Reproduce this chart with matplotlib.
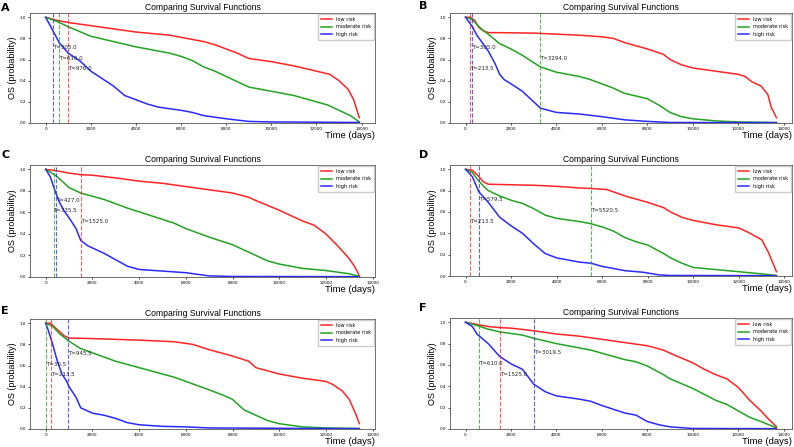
import matplotlib.pyplot as plt

## DATA
#  survival curves (time in days, survival probability)

# panel A
A_low_t = [0, 500, 1000, 2000, 3000, 4000, 5000, 5500, 6000, 7000, 7500, 8000, 8500, 9000, 10000, 11000, 12000, 12600, 13000, 13400, 13650, 13900]
A_low_s = [1.0, 0.97, 0.95, 0.92, 0.89, 0.86, 0.84, 0.83, 0.81, 0.77, 0.74, 0.70, 0.66, 0.61, 0.58, 0.54, 0.49, 0.46, 0.40, 0.32, 0.22, 0.05]
A_mod_t = [0, 500, 1000, 2000, 3000, 4000, 5000, 5500, 6000, 6500, 7000, 7500, 8000, 8500, 9000, 10000, 11000, 12000, 12500, 13000, 13500, 13900]
A_mod_s = [1.0, 0.96, 0.91, 0.82, 0.77, 0.72, 0.68, 0.66, 0.63, 0.59, 0.53, 0.49, 0.44, 0.39, 0.34, 0.30, 0.26, 0.20, 0.17, 0.12, 0.07, 0.01]
A_high_t = [0, 300, 600, 1000, 1500, 2000, 2500, 3000, 3500, 4000, 4500, 5000, 6000, 6500, 7000, 8000, 9000, 10000, 13900]
A_high_s = [1.0, 0.88, 0.76, 0.66, 0.59, 0.49, 0.42, 0.35, 0.26, 0.22, 0.18, 0.15, 0.12, 0.10, 0.07, 0.04, 0.015, 0.01, 0.005]

# panel B
B_low_t = [0, 200, 400, 600, 800, 1000, 2000, 3000, 4000, 5000, 6000, 6500, 7000, 8000, 8700, 9000, 9500, 10000, 11000, 12000, 12300, 12600, 13000, 13300, 13450, 13680]
B_low_s = [1.0, 1.0, 0.97, 0.90, 0.87, 0.855, 0.853, 0.85, 0.84, 0.83, 0.815, 0.80, 0.76, 0.70, 0.65, 0.60, 0.55, 0.52, 0.49, 0.46, 0.44, 0.39, 0.35, 0.27, 0.15, 0.05]
B_mod_t = [0, 300, 500, 800, 1000, 1500, 2000, 2500, 3000, 3300, 4000, 5000, 5500, 6000, 6500, 7000, 8000, 8500, 9000, 9500, 10000, 11000, 12000, 13680]
B_mod_s = [1.0, 0.98, 0.93, 0.87, 0.84, 0.75, 0.70, 0.64, 0.57, 0.53, 0.48, 0.44, 0.41, 0.37, 0.33, 0.28, 0.23, 0.17, 0.10, 0.06, 0.04, 0.02, 0.01, 0.005]
B_high_t = [0, 300, 500, 1000, 1300, 1500, 1700, 2000, 2500, 3000, 3300, 4000, 5000, 6000, 7000, 8000, 9000, 13680]
B_high_s = [1.0, 0.91, 0.83, 0.68, 0.56, 0.46, 0.41, 0.37, 0.30, 0.20, 0.14, 0.10, 0.085, 0.06, 0.03, 0.015, 0.005, 0.003]

# panel C
C_low_t = [0, 500, 1000, 1500, 2000, 3000, 4000, 5000, 6000, 7000, 8000, 8700, 9000, 10000, 11000, 11500, 12000, 12500, 13000, 13250, 13430]
C_low_s = [1.0, 0.985, 0.965, 0.95, 0.945, 0.92, 0.89, 0.87, 0.84, 0.81, 0.78, 0.74, 0.71, 0.62, 0.52, 0.48, 0.40, 0.29, 0.17, 0.09, 0.01]
C_mod_t = [0, 300, 500, 1000, 1500, 2500, 3500, 4500, 5500, 6000, 7000, 8000, 9000, 9500, 10000, 11000, 12000, 13000, 13430]
C_mod_s = [1.0, 0.96, 0.93, 0.83, 0.78, 0.72, 0.64, 0.57, 0.50, 0.45, 0.37, 0.30, 0.20, 0.15, 0.12, 0.08, 0.06, 0.03, 0.005]
C_high_t = [0, 200, 400, 600, 800, 1000, 1300, 1500, 1800, 2500, 3000, 3500, 4000, 5000, 6000, 7000, 8000, 13430]
C_high_s = [1.0, 0.93, 0.80, 0.69, 0.61, 0.55, 0.45, 0.34, 0.29, 0.22, 0.16, 0.10, 0.07, 0.055, 0.04, 0.01, 0.005, 0.003]

# panel D
D_low_t = [0, 300, 500, 800, 1000, 2000, 3000, 4000, 5000, 5500, 6200, 7000, 8000, 8700, 9000, 9500, 10000, 11000, 12000, 12400, 13000, 13300, 13650]
D_low_s = [1.0, 0.99, 0.95, 0.88, 0.86, 0.855, 0.85, 0.84, 0.825, 0.82, 0.81, 0.75, 0.69, 0.64, 0.60, 0.55, 0.52, 0.48, 0.45, 0.41, 0.34, 0.22, 0.04]
D_mod_t = [0, 300, 500, 800, 1000, 1500, 2000, 2500, 3000, 3500, 4000, 5000, 5500, 6000, 6500, 7000, 7500, 8000, 8700, 9000, 9500, 10000, 11000, 12000, 13000, 13650]
D_mod_s = [1.0, 0.97, 0.91, 0.84, 0.80, 0.75, 0.71, 0.68, 0.63, 0.57, 0.54, 0.51, 0.49, 0.46, 0.42, 0.36, 0.32, 0.29, 0.21, 0.17, 0.12, 0.08, 0.06, 0.04, 0.02, 0.005]
D_high_t = [0, 300, 580, 1000, 1500, 2000, 2500, 3000, 3500, 4000, 5000, 5500, 6000, 7000, 7800, 8500, 9000, 13650]
D_high_s = [1.0, 0.93, 0.79, 0.69, 0.55, 0.47, 0.40, 0.30, 0.21, 0.17, 0.13, 0.12, 0.09, 0.05, 0.035, 0.01, 0.005, 0.003]

# panel E
E_low_t = [0, 200, 400, 600, 800, 1000, 2000, 4000, 5500, 6300, 7000, 8000, 8700, 9000, 10000, 11000, 12000, 12300, 12700, 13000, 13300, 13430]
E_low_s = [1.0, 1.0, 0.96, 0.92, 0.88, 0.86, 0.855, 0.84, 0.825, 0.80, 0.75, 0.69, 0.64, 0.58, 0.52, 0.48, 0.45, 0.42, 0.36, 0.28, 0.13, 0.05]
E_mod_t = [0, 300, 600, 1000, 1500, 2000, 3000, 4000, 5000, 5500, 6000, 7000, 7600, 8000, 8500, 9000, 9500, 10000, 11000, 12000, 13430]
E_mod_s = [1.0, 0.97, 0.90, 0.83, 0.76, 0.72, 0.64, 0.58, 0.52, 0.49, 0.45, 0.37, 0.32, 0.28, 0.18, 0.13, 0.08, 0.05, 0.02, 0.01, 0.005]
E_high_t = [0, 100, 300, 500, 700, 900, 1000, 1300, 1500, 2000, 2500, 3000, 3500, 4000, 5000, 6000, 7000, 13430]
E_high_s = [1.0, 0.94, 0.80, 0.64, 0.52, 0.45, 0.40, 0.30, 0.20, 0.15, 0.13, 0.10, 0.06, 0.04, 0.025, 0.02, 0.01, 0.003]

# panel F
F_low_t = [0, 500, 1000, 1500, 2000, 3000, 4000, 5000, 6000, 7000, 8000, 8700, 9000, 10000, 10500, 11000, 11500, 12000, 12500, 13000, 13300, 13680]
F_low_s = [1.0, 0.98, 0.96, 0.95, 0.945, 0.92, 0.89, 0.87, 0.84, 0.81, 0.78, 0.74, 0.71, 0.62, 0.56, 0.51, 0.47, 0.39, 0.27, 0.17, 0.10, 0.02]
F_mod_t = [0, 500, 1000, 1500, 2500, 3000, 4000, 5000, 5500, 6000, 7000, 7500, 8000, 8700, 9000, 10000, 11000, 11500, 12000, 12500, 13000, 13680]
F_mod_s = [1.0, 0.97, 0.935, 0.91, 0.88, 0.85, 0.80, 0.76, 0.74, 0.71, 0.65, 0.63, 0.59, 0.51, 0.47, 0.38, 0.27, 0.23, 0.17, 0.11, 0.07, 0.01]
F_high_t = [0, 300, 500, 1000, 1500, 2000, 2500, 3000, 3500, 4000, 5000, 5500, 6000, 7000, 7500, 8000, 8500, 9000, 10000, 13680]
F_high_s = [1.0, 0.96, 0.89, 0.80, 0.68, 0.61, 0.56, 0.42, 0.35, 0.31, 0.28, 0.26, 0.22, 0.15, 0.13, 0.07, 0.04, 0.02, 0.005, 0.003]

# cut-off times (low, moderate, high)
A_cut = [976.0, 610.0, 305.0]
B_cut = [213.5, 3294.0, 305.0]
C_cut = [1525.0, 335.5, 427.0]
D_cut = [213.5, 5520.5, 579.5]
E_cut = [213.5, 30.5, 945.5]
F_cut = [1525.0, 610.0, 3019.5]

letters = ["A", "B", "C", "D", "E", "F"]
labels = ["low risk", "moderate risk", "high risk"]
colors = ["#ff2424", "#22a322", "#2a2aff"]
text_y = [0.5, 0.6, 0.7]

panels = [
    (A_low_t, A_low_s, A_mod_t, A_mod_s, A_high_t, A_high_s, A_cut),
    (B_low_t, B_low_s, B_mod_t, B_mod_s, B_high_t, B_high_s, B_cut),
    (C_low_t, C_low_s, C_mod_t, C_mod_s, C_high_t, C_high_s, C_cut),
    (D_low_t, D_low_s, D_mod_t, D_mod_s, D_high_t, D_high_s, D_cut),
    (E_low_t, E_low_s, E_mod_t, E_mod_s, E_high_t, E_high_s, E_cut),
    (F_low_t, F_low_s, F_mod_t, F_mod_s, F_high_t, F_high_s, F_cut),
]

## LAYOUT
#  axes boxes in pixels: left, right, top, bottom
W, H = 794, 447
boxes = [(30, 375, 13, 123), (450, 792, 13, 123),
         (30, 375, 165, 277), (450, 792, 165, 276),
         (30, 375, 319, 429), (450, 792, 318, 429)]
letter_pos = [(1, 3), (419, 1), (1, 150), (419, 150), (1, 306), (419, 303)]

fig = plt.figure(figsize=(W / 100, H / 100), dpi=100)
label_font = "Liberation Sans"

for i, p in enumerate(panels):
    l, r, t, b = boxes[i]
    ax = fig.add_axes([l / W, 1 - b / H, (r - l) / W, (b - t) / H])
    curves = [(p[0], p[1]), (p[2], p[3]), (p[4], p[5])]
    for k in range(3):
        ax.plot(curves[k][0], curves[k][1], color=colors[k], lw=1.1, label=labels[k])
    for k in range(3):
        T = p[6][k]
        ax.axvline(T, color=colors[k], ls="--", lw=0.8, alpha=0.75)
        ax.text(T, text_y[k], "T=%.1f" % T, fontsize=4, color="#222222")
    ax.set_ylim(0, 1.04)
    ax.margins(x=0.05)
    ax.set_xticks(range(0, 14001, 2000))
    ax.set_yticks([0.0, 0.2, 0.4, 0.6, 0.8, 1.0])
    ax.tick_params(labelsize=3, length=1.5, width=0.5, pad=1.5)
    for s in ax.spines.values():
        s.set_linewidth(0.6)
        s.set_color("#555555")
    ax.set_title("Comparing Survival Functions", fontsize=6.2, family=label_font, pad=2.5)
    ax.set_ylabel("OS (probability)", fontsize=6.5, family=label_font, labelpad=2)
    ax.set_xlabel("Time (days)", fontsize=6.8, family=label_font, loc="right", labelpad=0)
    ax.legend(loc="upper right", fontsize=3.6, handlelength=2.2, borderaxespad=0.15,
              labelspacing=0.5, borderpad=0.6, framealpha=1, edgecolor="#cccccc")
    lx, ly = letter_pos[i]
    fig.text(lx / W, 1 - ly / H, letters[i], fontsize=8, fontweight="bold", va="top", ha="left")

plt.savefig("out.png", dpi=100)
